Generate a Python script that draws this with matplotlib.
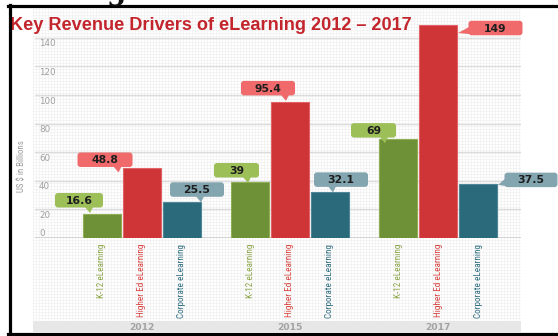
import matplotlib
matplotlib.use("Agg")
import matplotlib.pyplot as plt
from matplotlib.patches import FancyBboxPatch, Polygon, Rectangle
from matplotlib.lines import Line2D
from matplotlib import font_manager

# ---------------- data ----------------
years = ["2012", "2015", "2017"]
series = ["K-12 eLearning", "Higher Ed eLearning", "Corporate eLearning"]
k12 = [16.6, 39, 69]
higher_ed = [48.8, 95.4, 149]
corporate = [25.5, 32.1, 37.5]
value_labels = [["16.6", "39", "69"], ["48.8", "95.4", "149"], ["25.5", "32.1", "37.5"]]
yticks = [0, 20, 40, 60, 80, 100, 120, 140]
title = "Key Revenue Drivers of eLearning 2012 \u2013 2017"
ylabel = "US $ in Billions"

values = [k12, higher_ed, corporate]

# ---------------- style / layout ----------------
W, H = 558, 336
bar_colors = ["#6e9138", "#cf3437", "#2a6a7b"]
bar_edges = ["#8fae55", "#e06466", "#4f8797"]
box_colors = ["#9dbf58", "#f06a6b", "#82a5b0"]
label_colors = ["#8ba548", "#d8433f", "#2f6e80"]


def available(name):
    try:
        font_manager.findfont(font_manager.FontProperties(family=name),
                              fallback_to_default=False)
        return True
    except Exception:
        return False


narrow = "Liberation Sans"
for cand in ["Liberation Sans Narrow", "Roboto Condensed", "Open Sans Condensed",
             "Noto Sans Condensed", "DejaVu Sans Condensed"]:
    if available(cand):
        narrow = cand
        break

fig = plt.figure(figsize=(W / 100, H / 100), dpi=100)
renderer = fig.canvas.get_renderer()


def fit_size(text, target_px, family, base=10):
    t = fig.text(0, 0, text, fontsize=base, family=family)
    w = t.get_window_extent(renderer).width
    t.remove()
    return base * target_px / w


def fx(px):
    return px / W


def fy(py):
    return 1 - py / H


# textured background
bg = fig.add_axes([fx(33), fy(321), (521 - 33) / W, (321 - 9) / H])
bg.set_xlim(0, 488)
bg.set_ylim(0, 312)
bg.set_facecolor("#fbfbfb")
for i in range(0, 489, 3):
    bg.axvline(i, color="#f0f0f0", lw=0.5, zorder=0)
for j in range(0, 313, 3):
    bg.axhline(j, color="#f0f0f0", lw=0.5, zorder=0)
bg.axis("off")

# gray band at bottom with years
band = fig.add_axes([fx(33), fy(332), (521 - 33) / W, (332 - 321) / H])
band.set_facecolor("#e7e7e7")
band.set_xticks([])
band.set_yticks([])
for s in band.spines.values():
    s.set_visible(False)

# main axes
ax = fig.add_axes([fx(35), fy(238), 486 / W, (238 - 15) / H])
ax.patch.set_alpha(0)
slot = 1.0
group_gap = 3.7
ax.set_xlim(-2.675, 9.475)
ax.set_ylim(0, 156)
for s in ax.spines.values():
    s.set_visible(False)
ax.set_xticks([])
ax.set_yticks([])
for t in yticks[1:]:
    ax.axhline(t, color="#dcdcdc", lw=1.0, zorder=1)
ax.axhline(0, color="#cdcdcd", lw=1.2, zorder=1)

bar_x = []
for si, vals in enumerate(values):
    xs = [gi * group_gap + (si - 1) * slot for gi in range(len(years))]
    bar_x.append(xs)
    ax.bar(xs, vals, width=0.95, color=bar_colors[si], edgecolor=bar_edges[si],
           linewidth=0.8, zorder=3)

# overlay in pixel coordinates (y downwards)
ov = fig.add_axes([0, 0, 1, 1])
ov.set_xlim(0, W)
ov.set_ylim(H, 0)
ov.axis("off")
ov.patch.set_alpha(0)


def to_px(x, y):
    d = ax.transData.transform((x, y))
    return ov.transData.inverted().transform(d)


# y tick labels
for t in yticks:
    px, py = to_px(ax.get_xlim()[0], t)
    off = -4 if t == 0 else 6
    ov.text(px + 4, py + off, str(t), ha="left", va="center", fontsize=6.3,
            color="#a0a0a0", family="DejaVu Sans")

# y label
ys = fit_size(ylabel, 52, narrow)
ov.text(22, 166, ylabel, rotation=90, ha="center", va="center", fontsize=ys,
        color="#9a9a9a", family=narrow)

# category labels under bars
cs = fit_size(series[1], 72, narrow)
for si in range(3):
    for gi in range(3):
        px, py = to_px(bar_x[si][gi], 0)
        ov.text(px, py + 6, series[si], rotation=90, ha="center", va="top",
                fontsize=cs, color=label_colors[si], family=narrow)

# year labels
for gi, yr in enumerate(years):
    px, _ = to_px(bar_x[1][gi], 0)
    ov.text(px, 327, yr, ha="center", va="center", fontsize=6.6, color="#a3a3a3",
            fontweight="bold", family="DejaVu Sans")

# callouts: (box centre dx, dy above bar top), box width, pointer
callout_layout = [
    [(-23, 14, 48, ("down", 11)), (-13.5, 12, 45, ("down", 11.5)), (-24.5, 9, 45, ("down", 11.5))],
    [(-37, 8.5, 55, ("down", 13.5)), (-22, 13.5, 54, ("down", 18)), (57.5, -3, 54, ("left",))],
    [(15, 12, 54, ("down", 4)), (11, 12.5, 54, ("down", -8)), (53, 4.5, 53, ("left",))],
]
box_h = 14.5
for si in range(3):
    for gi in range(3):
        bx, top = to_px(bar_x[si][gi], values[si][gi])
        dx, dy, bw, ptr = callout_layout[si][gi]
        cx, cy = bx + dx, top - dy
        box = FancyBboxPatch((cx - bw / 2 + 3, cy - box_h / 2 + 3), bw - 6, box_h - 6,
                             boxstyle="round,pad=3", fc=box_colors[si], ec="none", zorder=5)
        ov.add_patch(box)
        if ptr[0] == "down":
            tx = cx + ptr[1]
            by = cy + box_h / 2
            tri = Polygon([(tx - 5, by - 0.5), (tx + 3, by - 0.5), (tx, by + 5.5)],
                          closed=True, fc=box_colors[si], ec="none", zorder=5)
        else:
            lx = cx - bw / 2
            right_edge = to_px(bar_x[si][gi] + 0.475, values[si][gi])[0]
            tri = Polygon([(lx + 0.5, cy - 1), (lx + 0.5, cy + 6), (right_edge + 1, cy + 5)],
                          closed=True, fc=box_colors[si], ec="none", zorder=5)
        ov.add_patch(tri)
        ov.text(cx, cy + 0.5, value_labels[si][gi], ha="center", va="center",
                fontsize=7.8, fontweight="bold", color="#1e1e1e", zorder=6,
                family="DejaVu Sans")

# title
ov.text(10, 25.5, title, ha="left", va="center", fontsize=13.1, fontweight="bold",
        color="#c3252c", family="Liberation Sans", zorder=7)

# black frame
ov.add_patch(Rectangle((0, -10), W, 15.5, fc="white", ec="none", zorder=7.5))
ov.add_line(Line2D([9.5, 9.5], [5, 334], color="black", lw=2.3, zorder=8))
ov.add_line(Line2D([8, W], [6, 6], color="black", lw=2.3, zorder=8))
ov.add_line(Line2D([8, W], [333.5, 333.5], color="black", lw=2.3, zorder=8))

# partial text cut at top edge
ov.text(117, 0.5, "g", ha="center", va="baseline", fontsize=20, fontweight="bold",
        color="#111111", family="DejaVu Serif", zorder=9)

fig.savefig("out.png", dpi=100)
